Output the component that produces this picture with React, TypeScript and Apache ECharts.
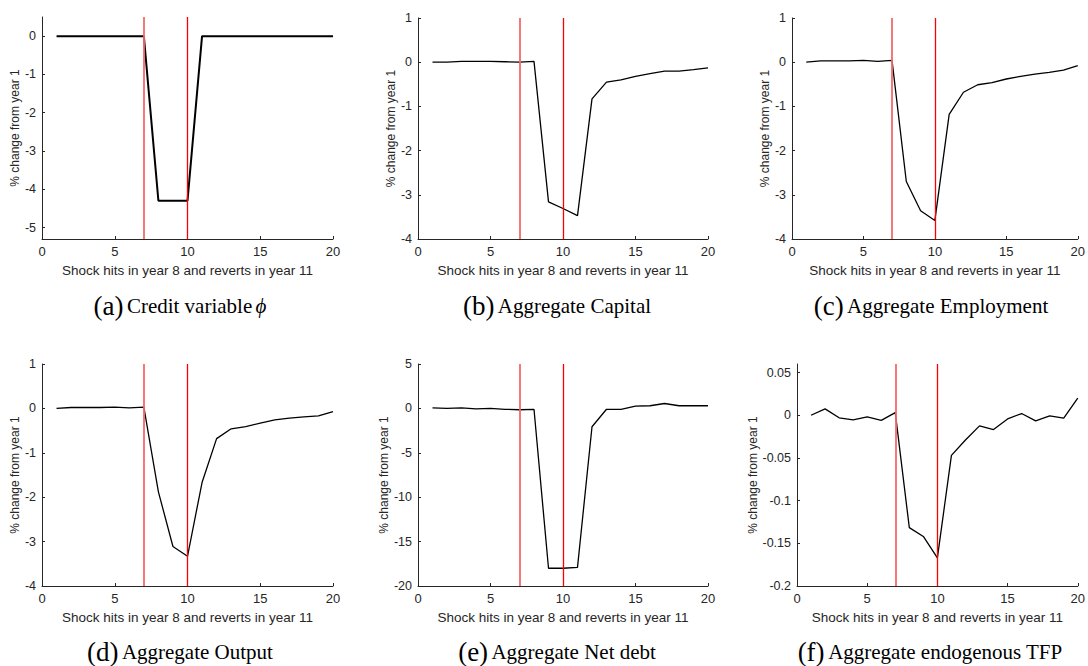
import React, { useEffect, useRef } from "react";
import * as echarts from "echarts";

const years = [1, 2, 3, 4, 5, 6, 7, 8, 9, 10, 11, 12, 13, 14, 15, 16, 17, 18, 19, 20];

const creditPhi = [0, 0, 0, 0, 0, 0, 0, -4.3, -4.3, -4.3, 0, 0, 0, 0, 0, 0, 0, 0, 0, 0];
const capital = [0, 0, 0.02, 0.02, 0.02, 0.01, 0, 0.02, -3.16, -3.31, -3.47, -0.83, -0.45, -0.4, -0.32, -0.26, -0.2, -0.2, -0.17, -0.13];
const employment = [0, 0.03, 0.03, 0.03, 0.04, 0.02, 0.04, -2.7, -3.36, -3.58, -1.18, -0.68, -0.51, -0.46, -0.38, -0.32, -0.27, -0.23, -0.18, -0.08];
const output = [0, 0.02, 0.02, 0.02, 0.03, 0.01, 0.03, -1.88, -3.11, -3.33, -1.67, -0.68, -0.46, -0.41, -0.33, -0.26, -0.22, -0.19, -0.17, -0.07];
const netDebt = [0.05, 0, 0.05, -0.05, 0, -0.1, -0.15, -0.1, -18.0, -18.0, -17.9, -2.07, -0.1, -0.1, 0.25, 0.3, 0.55, 0.3, 0.3, 0.3];
const tfp = [0, 0.0074, -0.003, -0.0055, -0.002, -0.006, 0.003, -0.1316, -0.142, -0.167, -0.047, -0.029, -0.0125, -0.0168, -0.0043, 0.002, -0.0066, -0.0008, -0.0035, 0.0199];

const xTicks = [0, 5, 10, 15, 20];
const yTicksA = [-5, -4, -3, -2, -1, 0];
const yTicksB = [-4, -3, -2, -1, 0, 1];
const yTicksE = [-20, -15, -10, -5, 0, 5];
const yTicksF = [-0.2, -0.15, -0.1, -0.05, 0, 0.05];

const captionLetters = ["(a)", "(b)", "(c)", "(d)", "(e)", "(f)"];
const captionTexts = [
  "Credit variable",
  "Aggregate Capital",
  "Aggregate Employment",
  "Aggregate Output",
  "Aggregate Net debt",
  "Aggregate endogenous TFP",
];
const captionSymbols = ["\u03d5", "", "", "", "", ""];

const xAxisName = "Shock hits in year 8 and reverts in year 11";
const yAxisName = "% change from year 1";
const shockStart = 7;
const shockEnd = 10;

const panels = [
  { data: creditPhi, min: -5.3, max: 0.5, ticks: yTicksA, grid: { left: 42, top: 17, width: 291, height: 222 }, nameGap: 20, lineWidth: 2 },
  { data: capital, min: -4, max: 1, ticks: yTicksB, grid: { left: 418, top: 18, width: 290, height: 221 }, nameGap: 20, lineWidth: 1.3 },
  { data: employment, min: -4, max: 1, ticks: yTicksB, grid: { left: 792, top: 18, width: 291, height: 221 }, nameGap: 20, lineWidth: 1.3 },
  { data: output, min: -4, max: 1, ticks: yTicksB, grid: { left: 42, top: 364, width: 291, height: 222 }, nameGap: 20, lineWidth: 1.3 },
  { data: netDebt, min: -20, max: 5, ticks: yTicksE, grid: { left: 418, top: 364, width: 290, height: 222 }, nameGap: 27, lineWidth: 1.3 },
  { data: tfp, min: -0.2, max: 0.06, ticks: yTicksF, grid: { left: 797, top: 364, width: 285, height: 222 }, nameGap: 37, lineWidth: 1.3 },
];

const captionPos = [
  { x: 180, y: 306 },
  { x: 557, y: 306 },
  { x: 931, y: 306 },
  { x: 180, y: 652 },
  { x: 557, y: 652 },
  { x: 930, y: 652 },
];

const AX = "#262626";

export default function App() {
  const ref = useRef<HTMLDivElement>(null);
  useEffect(() => {
    if (!ref.current) return;
    const chart = echarts.init(ref.current, null, { renderer: "svg" });
    const grids: any[] = [];
    const xAxes: any[] = [];
    const yAxes: any[] = [];
    const series: any[] = [];
    panels.forEach((p, i) => {
      grids.push({ ...p.grid, containLabel: false });
      xAxes.push({
        type: "value",
        gridIndex: i,
        min: 0,
        max: 20,
        interval: 5,
        name: xAxisName,
        nameLocation: "middle",
        nameGap: 24,
        nameTextStyle: { fontFamily: "Liberation Sans", fontSize: 13.5, color: AX },
        axisLine: { show: true, onZero: false, lineStyle: { color: AX, width: 1 } },
        axisTick: { show: true, inside: true, length: 3, lineStyle: { color: AX } },
        axisLabel: { show: true, margin: 6, fontFamily: "Liberation Sans", fontSize: 13, color: AX, customValues: xTicks },
        splitLine: { show: false },
      });
      yAxes.push({
        type: "value",
        gridIndex: i,
        min: p.min,
        max: p.max,
        name: yAxisName,
        nameLocation: "middle",
        nameGap: p.nameGap,
        nameRotate: 90,
        nameTextStyle: { fontFamily: "Liberation Sans", fontSize: 12, color: AX },
        axisLine: { show: true, onZero: false, lineStyle: { color: AX, width: 1 } },
        axisTick: { show: true, inside: true, length: 3, lineStyle: { color: AX }, customValues: p.ticks },
        axisLabel: {
          show: true,
          margin: 6,
          fontFamily: "Liberation Sans",
          fontSize: 12.5,
          color: AX,
          customValues: p.ticks,
          formatter: (v: number) => String(Math.round(v * 1000) / 1000),
        },
        splitLine: { show: false },
      });
      series.push({
        type: "line",
        xAxisIndex: i,
        yAxisIndex: i,
        data: years.map((y, k) => [y, p.data[k]]),
        showSymbol: false,
        symbol: "none",
        lineStyle: { color: "#000", width: p.lineWidth },
        z: 3,
        markLine: {
          silent: true,
          symbol: ["none", "none"],
          label: { show: false },
          animation: false,
          data: [
            { xAxis: shockStart, lineStyle: { color: "#f46a6a", width: 1.8, type: "solid" } },
            { xAxis: shockEnd, lineStyle: { color: "#ff0000", width: 1.3, type: "solid" } },
          ],
        },
      });
    });
    const graphic = captionPos.map((c, i) => ({
      type: "text",
      x: c.x,
      y: c.y,
      style: {
        text:
          `{a|${captionLetters[i]}} {b|${captionTexts[i]}}` +
          (captionSymbols[i] ? ` {c|${captionSymbols[i]}}` : ""),
        textAlign: "center",
        textVerticalAlign: "middle",
        rich: {
          a: { fontFamily: "Liberation Serif", fontSize: 27, fill: "#000" },
          b: { fontFamily: "Liberation Serif", fontSize: 21, fill: "#000" },
          c: { fontFamily: "Liberation Serif", fontSize: 21, fontStyle: "italic", fill: "#000" },
        },
      },
    }));
    chart.setOption({
      animation: false,
      backgroundColor: "#fff",
      grid: grids,
      xAxis: xAxes,
      yAxis: yAxes,
      series,
      graphic,
    });
    return () => chart.dispose();
  }, []);
  return (
    <div
      ref={ref}
      style={{ position: "absolute", left: 0, top: 0, width: 1088, height: 666, background: "#fff" }}
    />
  );
}
